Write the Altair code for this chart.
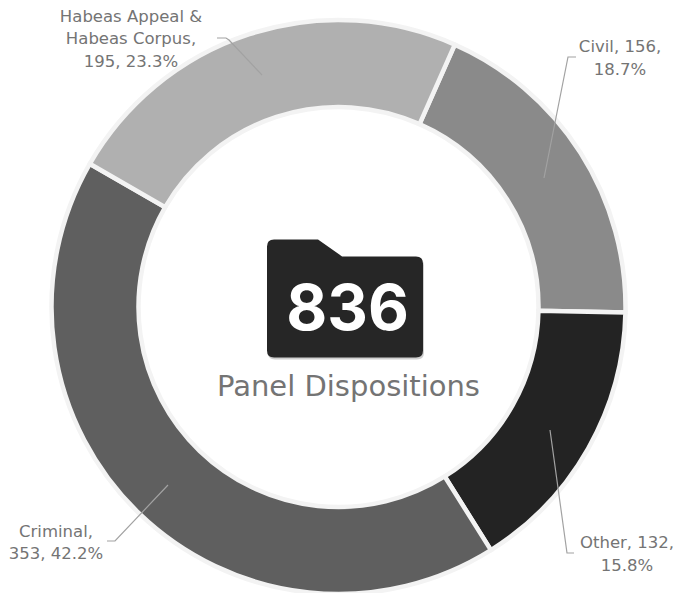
import math
import altair as alt
import pandas as pd

categories = ["Civil", "Other", "Criminal", "Habeas Appeal & Habeas Corpus"]
counts = [156, 132, 353, 195]
percents = ["18.7%", "15.8%", "42.2%", "23.3%"]
colors = ["#8a8a8a", "#232323", "#5f5f5f", "#b0b0b0"]
total = "836"
caption = "Panel Dispositions"

W, H = 674, 585
OX, OY = 8, 8
FONT = "DejaVu Sans"
CX, CY = 338.5 - OX, 307 - OY
START = math.radians(23.9)

ring = pd.DataFrame({"cat": categories, "n": counts, "o": range(4)})
arcs = alt.Chart(ring).mark_arc(
    outerRadius=287, innerRadius=200, stroke="#f3f3f3", strokeWidth=4.5
).encode(
    theta=alt.Theta("n:Q", stack=True, scale=alt.Scale(range=[START, START + 2 * math.pi])),
    order=alt.Order("o:Q"),
    color=alt.Color("cat:N", scale=alt.Scale(domain=categories, range=colors), legend=None),
    x=alt.value(CX), y=alt.value(CY),
)

xs = alt.Scale(domain=[OX, OX + W], range=[0, W])
ys = alt.Scale(domain=[OY, OY + H], range=[0, H])

leader_paths = {
    "Civil": [(544, 178), (568, 57), (576, 57)],
    "Other": [(550, 430), (567, 553), (574, 553)],
    "Criminal": [(168, 485), (115, 541), (107, 541)],
    "Habeas": [(262, 75), (229, 40), (226, 38), (217, 38)],
}
rows = [{"k": k, "i": i, "x": p[0], "y": p[1]} for k, pts in leader_paths.items() for i, p in enumerate(pts)]
leaders = alt.Chart(pd.DataFrame(rows)).mark_line(color="#a2a2a2", strokeWidth=1.2).encode(
    x=alt.X("x:Q", scale=xs, axis=None),
    y=alt.Y("y:Q", scale=ys, axis=None),
    detail="k:N",
    order="i:Q",
)

label_rows = [
    ("Habeas Appeal &", 131, 22), ("Habeas Corpus,", 131, 44), (f"{counts[3]}, {percents[3]}", 131, 67),
    (f"{categories[0]}, {counts[0]},", 620, 52), (percents[0], 620, 75),
    (f"{categories[1]}, {counts[1]},", 627, 548), (percents[1], 627, 571),
    (f"{categories[2]},", 56, 537), (f"{counts[2]}, {percents[2]}", 56, 559),
]
labels = alt.Chart(pd.DataFrame(label_rows, columns=["t", "x", "y"])).mark_text(
    font=FONT, fontSize=16.5, color="#747474", align="center", baseline="alphabetic"
).encode(x=alt.X("x:Q", scale=xs, axis=None), y=alt.Y("y:Q", scale=ys, axis=None), text="t:N")

FOLDER = ("M-0.91,-0.756 L-0.346,-0.756 L-0.038,-0.54 L0.91,-0.54 Q1,-0.54 1,-0.45 L1,0.666 "
          "Q1,0.756 0.91,0.756 L-0.91,0.756 Q-1,0.756 -1,0.666 L-1,-0.666 Q-1,-0.756 -0.91,-0.756 Z")
anchor = pd.DataFrame({"a": [0]})
shadow = alt.Chart(anchor).mark_point(
    shape=FOLDER, size=156 ** 2, filled=True, fill="#bbbbbb", opacity=0.7, strokeWidth=0
).encode(x=alt.value(345 - OX + 1), y=alt.value(298.5 - OY + 2))
folder = alt.Chart(anchor).mark_point(
    shape=FOLDER, size=156 ** 2, filled=True, fill="#262626", opacity=1, strokeWidth=0
).encode(x=alt.value(345 - OX), y=alt.value(298.5 - OY))

big = alt.Chart(pd.DataFrame({"t": [total]})).mark_text(
    font="Inter", fontSize=63, fontWeight=700, color="white", align="center", baseline="alphabetic"
).encode(x=alt.value(347.5 - OX), y=alt.value(330 - OY), text="t:N")
cap = alt.Chart(pd.DataFrame({"t": [caption]})).mark_text(
    font=FONT, fontSize=29, color="#747474", align="center", baseline="alphabetic"
).encode(x=alt.value(348.5 - OX), y=alt.value(396 - OY), text="t:N")

chart = alt.layer(arcs, leaders, labels, shadow, folder, big, cap).properties(
    width=W, height=H, padding=0, autosize=alt.AutoSizeParams(type="none")
).configure_view(stroke=None, clip=False)

chart.save("out.html", embed_options={"renderer": "svg", "actions": False})
